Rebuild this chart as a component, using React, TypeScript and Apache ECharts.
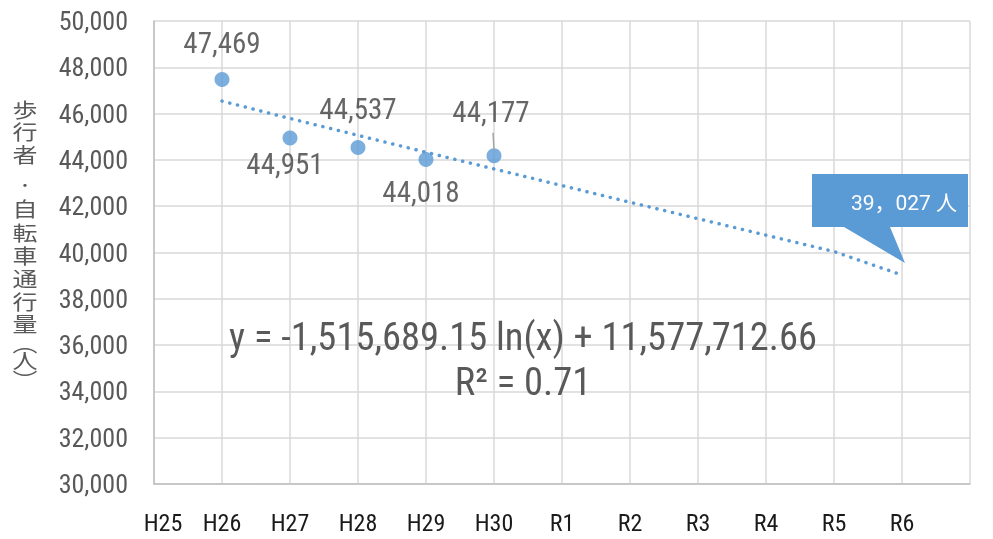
import React, { useEffect, useRef } from "react";
import * as echarts from "echarts";

const categories = ["H25", "H26", "H27", "H28", "H29", "H30", "R1", "R2", "R3", "R4", "R5", "R6", ""];
const observed: [string, number][] = [
  ["H26", 47469],
  ["H27", 44951],
  ["H28", 44537],
  ["H29", 44018],
  ["H30", 44177],
];
const trendValues = [null, 46540, 45790, 45060, 44330, 43610, 42890, 42170, 41460, 40750, 40040, 39027, null];
const yTicks = { min: 30000, max: 50000, interval: 2000 };
const equationText = "y = -1,515,689.15 ln(x) + 11,577,712.66";
const r2Text = "R² = 0.71";
const calloutText = "39，027 人";
const yAxisTitle = ["歩", "行", "者", "・", "自", "転", "車", "通", "行", "量", "︵", "人", "︶"];

const FONT = '"Roboto Condensed", "Liberation Sans Narrow", "Arial Narrow", Roboto, sans-serif';
const BLUE = "#5B9BD5";

const labelPlacements = [
  { position: "top", offset: [0, -10] },
  { position: "bottom", offset: [-5, -1] },
  { position: "top", offset: [0, -11] },
  { position: "bottom", offset: [-5, 6] },
  { position: "top", offset: [-3, -17] },
];

// vertical title layout (pixel centres of each stacked glyph)
const TITLE_Y = [111, 133, 156, 186, 210, 234, 257, 280, 303, 325, 345, 362, 381];

export default function App() {
  const ref = useRef<HTMLDivElement>(null);
  useEffect(() => {
    if (!ref.current) return;
    const chart = echarts.init(ref.current, null, { renderer: "svg" });
    const option: any = {
      animation: false,
      textStyle: { fontFamily: FONT },
      grid: { left: 154, right: 23, top: 21, bottom: 55, containLabel: false },
      xAxis: {
        type: "category",
        data: categories,
        boundaryGap: false,
        axisLine: { show: true, lineStyle: { color: "#BFBFBF", width: 1.5 } },
        axisTick: { show: false },
        splitLine: { show: true, interval: 0, lineStyle: { color: "#D9D9D9", width: 1.5 } },
        axisLabel: {
          interval: 0,
          fontFamily: FONT,
          fontSize: 24,
          color: "#1a1a1a",
          margin: 27,
          formatter: (v: string) => (v === "H25" ? "{first|" + v + "}" : v),
          rich: { first: { fontFamily: FONT, fontSize: 24, color: "#1a1a1a", padding: [0, 0, 0, 18] } },
        },
      },
      yAxis: {
        type: "value",
        min: yTicks.min,
        max: yTicks.max,
        interval: yTicks.interval,
        axisLine: { show: true, lineStyle: { color: "#BFBFBF", width: 1.5 } },
        axisTick: { show: false },
        splitLine: { show: true, lineStyle: { color: "#D9D9D9", width: 1.5 } },
        axisLabel: {
          fontFamily: FONT,
          fontSize: 26,
          color: "#595959",
          margin: 26,
          formatter: (v: number) => v.toLocaleString("en-US"),
        },
      },
      series: [
        {
          type: "line",
          data: trendValues,
          showSymbol: false,
          symbol: "none",
          connectNulls: false,
          lineStyle: { color: BLUE, width: 3.5, type: [0.1, 7.9], cap: "round" },
          z: 2,
        },
        {
          type: "scatter",
          data: observed.map((d, i) => ({
            value: d,
            label: {
              show: true,
              position: labelPlacements[i].position,
              offset: labelPlacements[i].offset,
              formatter: () => d[1].toLocaleString("en-US"),
              fontFamily: FONT,
              fontSize: 29,
              color: "#404040",
            },
          })),
          symbol: "circle",
          symbolSize: 15,
          itemStyle: { color: BLUE },
          z: 3,
        },
      ],
    };
    chart.setOption(option);

    const tip = chart.convertToPixel({ gridIndex: 0 }, ["R6", trendValues[11]]) as number[];
    const lead = chart.convertToPixel({ gridIndex: 0 }, ["H30", observed[4][1]]) as number[];
    const rectL = tip[0] - 90, rectR = tip[0] + 66, rectT = tip[1] - 101, rectB = tip[1] - 48;
    const eqPos = chart.convertToPixel({ gridIndex: 0 }, [categories[4], 36380]) as number[];

    chart.setOption({
      graphic: [
        ...yAxisTitle.map((ch, i) => ({
          type: "text",
          x: 25,
          y: TITLE_Y[i],
          scaleY: 0.82,
          style: {
            text: ch,
            fontFamily: '"Roboto Condensed", "Noto Sans CJK JP", sans-serif',
            fontSize: ch === "・" ? 16 : 25,
            fill: "#595959",
            align: "center",
            verticalAlign: "middle",
          },
        })),
        {
          type: "line",
          shape: { x1: lead[0] - 1, y1: lead[1] - 23, x2: lead[0], y2: lead[1] - 6 },
          style: { stroke: "#A6A6A6", lineWidth: 1.5 },
          z: 10,
        },
        {
          type: "polygon",
          shape: {
            points: [
              [rectL, rectT],
              [rectR, rectT],
              [rectR, rectB],
              [tip[0] - 12, rectB],
              [tip[0] + 3, tip[1] - 12],
              [tip[0] - 58, rectB],
              [rectL, rectB],
            ],
          },
          style: { fill: BLUE },
          z: 10,
        },
        {
          type: "text",
          x: (rectL + rectR) / 2 + 14,
          y: (rectT + rectB) / 2 + 2,
          style: {
            text: calloutText,
            fontFamily: 'Roboto, "Noto Sans CJK JP", sans-serif',
            fontSize: 21,
            fill: "#FFFFFF",
            align: "center",
            verticalAlign: "middle",
          },
          z: 11,
        },
        {
          type: "text",
          x: 523,
          y: eqPos[1],
          style: {
            text: equationText,
            fontFamily: FONT,
            fontSize: 38.5,
            fill: "#595959",
            align: "center",
            verticalAlign: "middle",
          },
          z: 5,
        },
        {
          type: "text",
          x: 523,
          y: eqPos[1] + 45,
          style: {
            text: r2Text,
            fontFamily: FONT,
            fontSize: 38.5,
            fill: "#595959",
            align: "center",
            verticalAlign: "middle",
          },
          z: 5,
        },
      ],
    });

    return () => chart.dispose();
  }, []);
  return <div ref={ref} style={{ position: "fixed", left: 0, top: 0, width: 993, height: 539 }} />;
}
